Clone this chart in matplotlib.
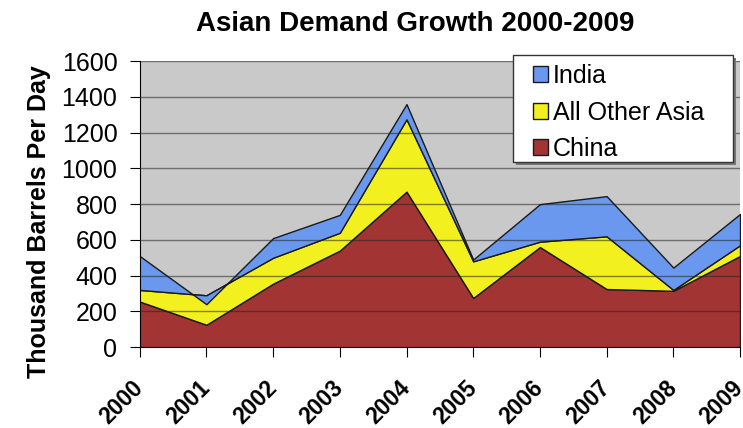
import matplotlib.pyplot as plt
from matplotlib.patches import Patch, Rectangle

plt.rcParams['font.family'] = ['Liberation Sans', 'DejaVu Sans']

years = [2000, 2001, 2002, 2003, 2004, 2005, 2006, 2007, 2008, 2009]
# stacked increments, thousand barrels per day
china = [255, 125, 355, 540, 870, 275, 560, 325, 315, 510]
other_asia = [65, 165, 145, 100, 405, 205, 30, 295, 5, 60]
india = [190, -50, 110, 100, 85, 10, 210, 225, 125, 175]

colors = ["#a33434", "#f2f01e", "#6a98ee"]

W, H = 743, 428
fig = plt.figure(figsize=(W / 100, H / 100), dpi=100)
ax = fig.add_axes([0.188, 0.189, 0.808, 0.668])
ax.set_facecolor("#c9c9c9")

ax.stackplot(years, china, other_asia, india, colors=colors,
             edgecolor="#1a1a1a", linewidth=1.0, zorder=2)

# grid lines show through the areas
for v in range(200, 1601, 200):
    ax.axhline(v, color="#222222", linewidth=1.0, alpha=0.55, zorder=3)

ax.set_xlim(2000, 2009)
ax.set_ylim(0, 1600)
ax.set_yticks(range(0, 1601, 200))
ax.set_xticks(years)
ax.set_xticklabels([str(y) for y in years], rotation=45, ha="right", va="center",
                   rotation_mode="anchor", fontsize=16.5, fontweight="bold")
ax.tick_params(axis="y", labelsize=18, length=7, pad=9)
ax.tick_params(axis="x", length=7, pad=20)

for s in ["top", "right"]:
    ax.spines[s].set_visible(False)

fig.text(0.559, 0.945, "Asian Demand Growth 2000-2009", fontsize=20,
         fontweight="bold", ha="center", va="center")
ax.set_ylabel("Thousand Barrels Per Day", fontsize=18, fontweight="bold")
ax.yaxis.set_label_coords(-0.148, 0.44)

# legend box drawn by hand so its padding matches the original
bx, by, bw, bh = 513, 55, 220, 107
fig.add_artist(Rectangle(((bx + 3) / W, (H - by - bh - 3) / H), bw / W, bh / H,
                         transform=fig.transFigure, facecolor="#777777",
                         edgecolor="none", zorder=3))
fig.add_artist(Rectangle((bx / W, (H - by - bh) / H), bw / W, bh / H,
                         transform=fig.transFigure, facecolor="white",
                         edgecolor="#333333", linewidth=1.0, zorder=4))

handles = [Patch(facecolor=colors[2], edgecolor="#1a1a1a", label="India"),
           Patch(facecolor=colors[1], edgecolor="#1a1a1a", label="All Other Asia"),
           Patch(facecolor=colors[0], edgecolor="#1a1a1a", label="China")]
leg = fig.legend(handles=handles, loc="upper left",
                 bbox_to_anchor=(533 / W, (H - 64) / H),
                 fontsize=18, frameon=False, handlelength=0.6, handleheight=0.6,
                 handletextpad=0.2, borderpad=0, labelspacing=0.5, borderaxespad=0)
leg.set_zorder(5)

fig.savefig("out.png", dpi=100)
